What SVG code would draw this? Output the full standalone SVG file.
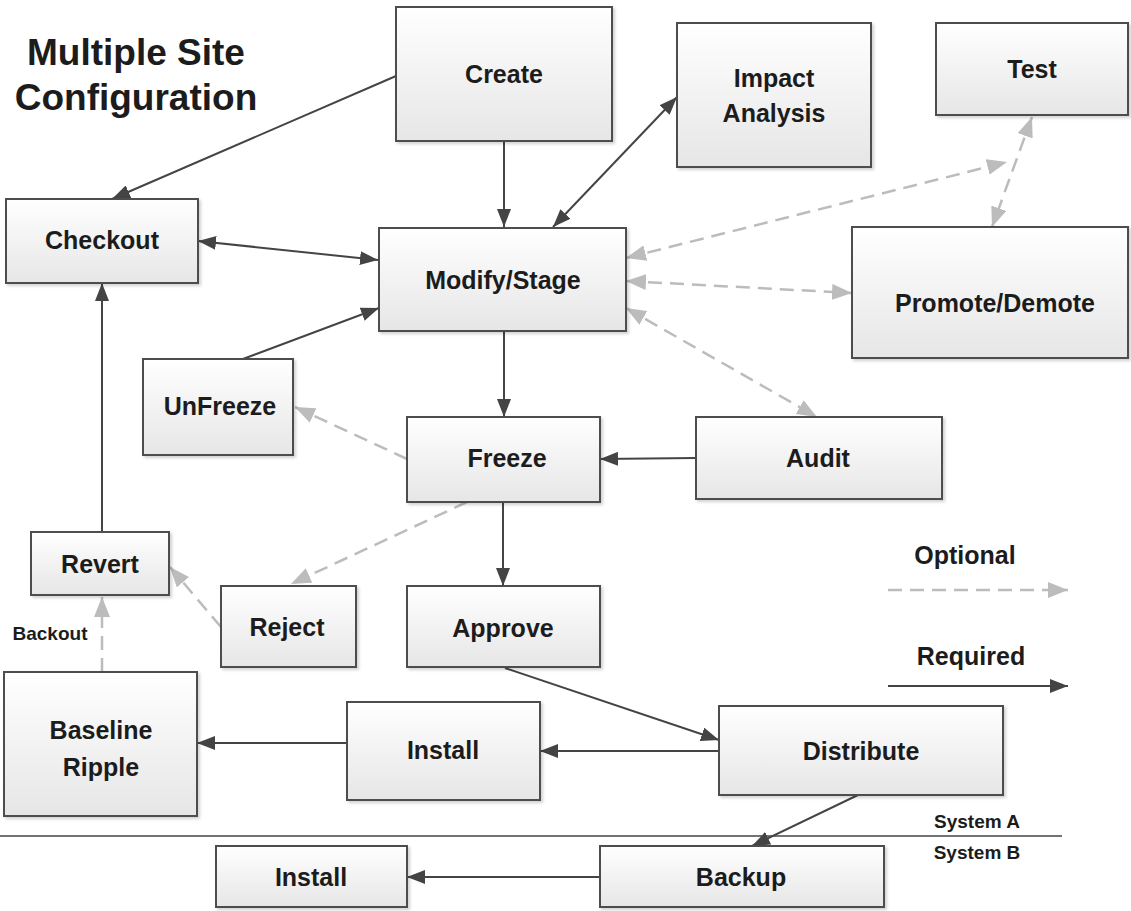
<svg xmlns="http://www.w3.org/2000/svg" width="1131" height="911" viewBox="0 0 1131 911">
<defs>
<linearGradient id="g" x1="0" y1="0" x2="0" y2="1">
<stop offset="0" stop-color="#ffffff"/>
<stop offset="1" stop-color="#e6e6e6"/>
</linearGradient>
<filter id="sh" x="-5%" y="-5%" width="115%" height="120%">
<feDropShadow dx="2" dy="2" stdDeviation="1.5" flood-color="#000" flood-opacity="0.18"/>
</filter>
<marker id="as" viewBox="0 0 18 14" markerUnits="userSpaceOnUse" markerWidth="18" markerHeight="14" refX="18" refY="7" orient="auto-start-reverse">
<path d="M0,0 L18,7 L0,14 z" fill="#444"/>
</marker>
<marker id="ad" viewBox="0 0 20 16" markerUnits="userSpaceOnUse" markerWidth="20" markerHeight="16" refX="20" refY="8" orient="auto-start-reverse">
<path d="M0,0 L20,8 L0,16 z" fill="#bcbcbc"/>
</marker>
</defs>
<style>
.box{fill:url(#g);stroke:#4d4d4d;stroke-width:2;filter:url(#sh)}
.t{font-family:"Liberation Sans",Arial,sans-serif;font-weight:bold;font-size:25px;fill:#1c1c1c;text-anchor:middle}
.sm{font-size:19px}
.title{font-size:37px}
.s{stroke:#444;stroke-width:2;fill:none}
.d{stroke:#bcbcbc;stroke-width:2.5;fill:none;stroke-dasharray:14 8}
.se{marker-end:url(#as)}
.sb{marker-start:url(#as);marker-end:url(#as)}
.de{marker-end:url(#ad)}
.db{marker-start:url(#ad);marker-end:url(#ad)}
</style>
<rect width="1131" height="911" fill="#fff"/>
<g id="title">
<text class="t title" x="136" y="65">Multiple Site</text>
<text class="t title" x="136" y="110">Configuration</text>
</g>
<g id="connectors">
<line class="s se" x1="396" y1="76" x2="112" y2="199"/>
<line class="s sb" x1="198" y1="241" x2="378" y2="260"/>
<line class="s se" x1="504" y1="141" x2="504" y2="227"/>
<line class="s sb" x1="677" y1="97" x2="553" y2="227"/>
<line class="s se" x1="243" y1="359" x2="379" y2="308"/>
<line class="s se" x1="504" y1="331" x2="504" y2="417"/>
<line class="s se" x1="696" y1="458" x2="600" y2="459"/>
<line class="s se" x1="503" y1="502" x2="503" y2="586"/>
<line class="s se" x1="505" y1="668" x2="719" y2="740"/>
<line class="s se" x1="719" y1="751" x2="540" y2="751"/>
<line class="s se" x1="347" y1="743" x2="197" y2="743"/>
<line class="s se" x1="102" y1="532" x2="102" y2="283"/>
<line class="s se" x1="858" y1="795" x2="752" y2="846"/>
<line class="s se" x1="600" y1="877" x2="407" y2="877"/>
<line class="d db" x1="626" y1="258" x2="1007" y2="162"/>
<line class="d db" x1="1032" y1="117" x2="992" y2="227"/>
<line class="d db" x1="626" y1="281" x2="852" y2="293"/>
<line class="d db" x1="626" y1="308" x2="817" y2="417"/>
<line class="d de" x1="407" y1="459" x2="295" y2="407"/>
<line class="d de" x1="467" y1="502" x2="291" y2="584"/>
<line class="d de" x1="221" y1="627" x2="170" y2="567"/>
<line class="d de" x1="102" y1="672" x2="102" y2="597"/>
</g>
<g id="separator">
<line x1="0" y1="836" x2="1062" y2="836" stroke="#444" stroke-width="1.5"/>
<text class="t sm" x="977" y="828">System A</text>
<text class="t sm" x="977" y="859">System B</text>
</g>
<g id="legend">
<text class="t" x="965" y="564">Optional</text>
<line class="d de" x1="888" y1="590" x2="1068" y2="590"/>
<text class="t" x="971" y="665">Required</text>
<line class="s se" x1="888" y1="686" x2="1068" y2="686"/>
</g>
<g id="create"><rect class="box" x="396" y="7" width="216" height="134"/><text class="t" x="504" y="83">Create</text></g>
<g id="impact"><rect class="box" x="677" y="23" width="194" height="144"/><text class="t" x="774" y="87">Impact</text><text class="t" x="774" y="122">Analysis</text></g>
<g id="test"><rect class="box" x="936" y="23" width="192" height="92"/><text class="t" x="1032" y="78">Test</text></g>
<g id="checkout"><rect class="box" x="6" y="199" width="192" height="84"/><text class="t" x="102" y="249">Checkout</text></g>
<g id="modify"><rect class="box" x="379" y="228" width="247" height="103"/><text class="t" x="503" y="289">Modify/Stage</text></g>
<g id="promote"><rect class="box" x="852" y="227" width="276" height="131"/><text class="t" x="995" y="312">Promote/Demote</text></g>
<g id="unfreeze"><rect class="box" x="143" y="359" width="150" height="96"/><text class="t" x="220" y="415">UnFreeze</text></g>
<g id="freeze"><rect class="box" x="407" y="417" width="193" height="85"/><text class="t" x="507" y="467">Freeze</text></g>
<g id="audit"><rect class="box" x="696" y="417" width="246" height="82"/><text class="t" x="818" y="467">Audit</text></g>
<g id="revert"><rect class="box" x="31" y="532" width="138" height="63"/><text class="t" x="100" y="573">Revert</text></g>
<g id="reject"><rect class="box" x="221" y="586" width="135" height="81"/><text class="t" x="287" y="636">Reject</text></g>
<g id="approve"><rect class="box" x="407" y="586" width="193" height="81"/><text class="t" x="503" y="637">Approve</text></g>
<g id="backout"><text class="t sm" x="50" y="640">Backout</text></g>
<g id="baseline"><rect class="box" x="4" y="672" width="193" height="144"/><text class="t" x="101" y="739">Baseline</text><text class="t" x="101" y="776">Ripple</text></g>
<g id="install1"><rect class="box" x="347" y="702" width="193" height="98"/><text class="t" x="443" y="759">Install</text></g>
<g id="distribute"><rect class="box" x="719" y="706" width="284" height="89"/><text class="t" x="861" y="760">Distribute</text></g>
<g id="install2"><rect class="box" x="216" y="846" width="191" height="61"/><text class="t" x="311" y="886">Install</text></g>
<g id="backup"><rect class="box" x="600" y="846" width="284" height="61"/><text class="t" x="741" y="886">Backup</text></g>
</svg>
